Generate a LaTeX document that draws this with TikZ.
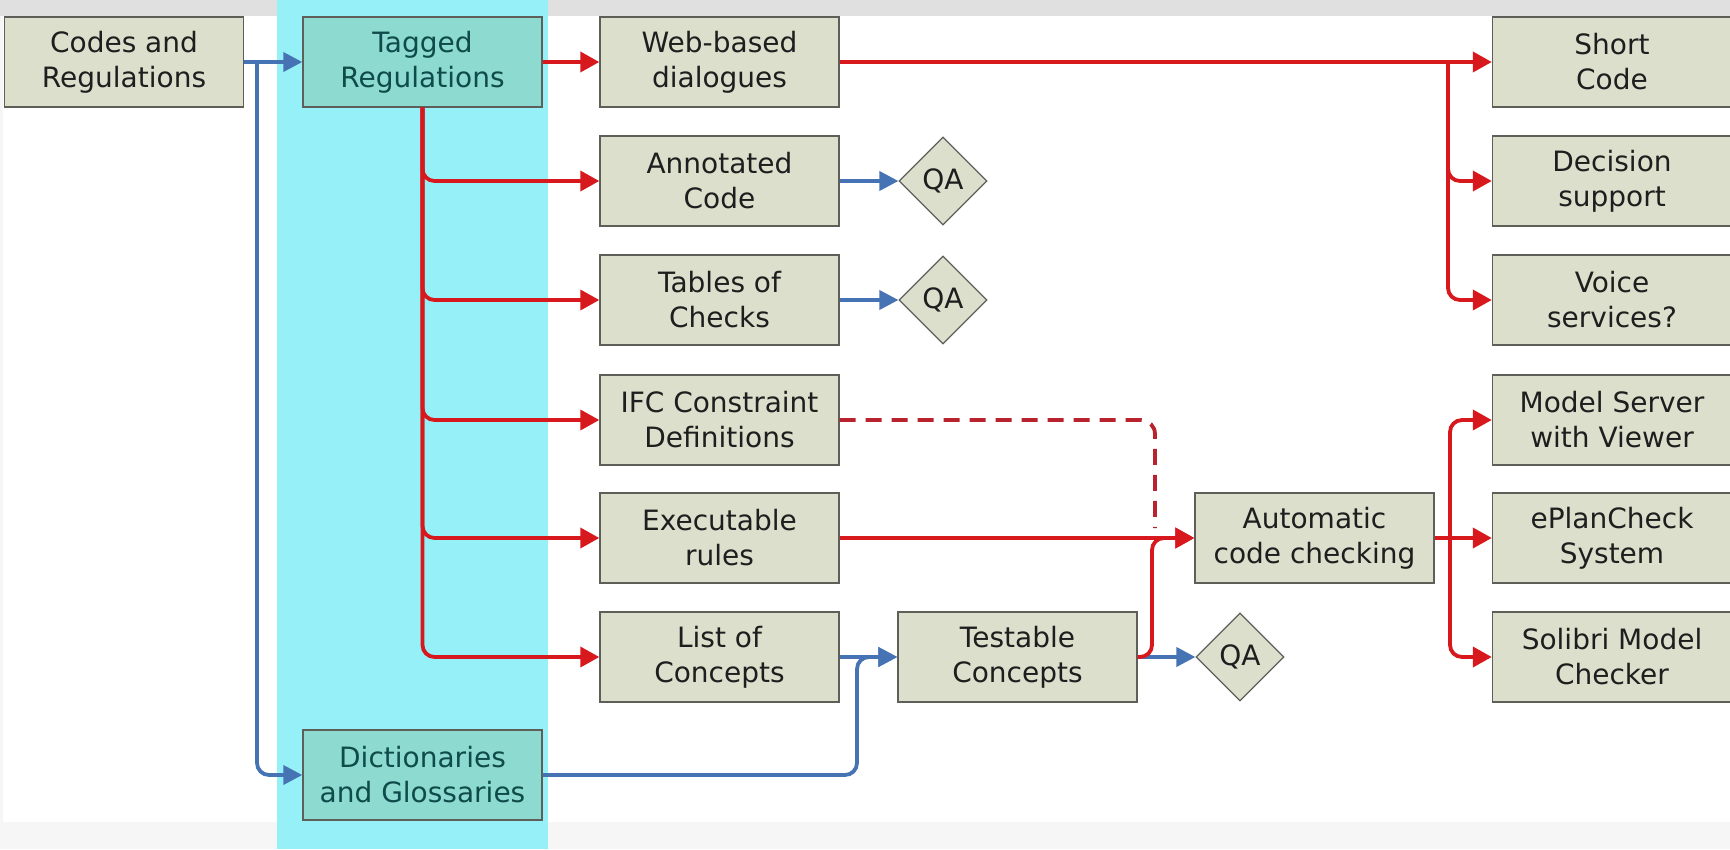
\documentclass[tikz,border=0pt]{standalone}
\usepackage{fontspec}
\setmainfont{DejaVu Sans}
\usetikzlibrary{arrows.meta,shapes.geometric}
\definecolor{boxfill}{RGB}{221,223,205}
\definecolor{boxdraw}{RGB}{95,95,90}
\definecolor{tagfill}{RGB}{140,218,208}
\definecolor{tagtext}{RGB}{15,75,75}
\definecolor{cyanband}{RGB}{150,240,248}
\definecolor{topgray}{RGB}{224,224,224}
\definecolor{botgray}{RGB}{246,246,246}
\definecolor{flowred}{RGB}{215,25,30}
\definecolor{dashred}{RGB}{185,35,45}
\definecolor{flowblue}{RGB}{70,115,180}
\definecolor{txt}{RGB}{30,30,30}
\tikzset{
  box/.style={draw=boxdraw, line width=1.4pt, fill=boxfill, text=txt,
    minimum width=239pt, minimum height=90pt, inner sep=0pt, align=center,
    font=\fontsize{28}{35}\selectfont},
  tagbox/.style={box, fill=tagfill, text=tagtext},
  qa/.style={diamond, draw=boxdraw, line width=1.2pt, fill=boxfill, text=txt,
    minimum width=88pt, minimum height=88pt, inner sep=0pt,
    font=\fontsize{28}{35}\selectfont},
  redarrow/.style={draw=flowred, line width=3.8pt,
    -{Triangle[length=19pt,width=20pt]}, rounded corners=12pt},
  redline/.style={draw=flowred, line width=3.8pt, rounded corners=12pt},
  bluearrow/.style={draw=flowblue, line width=3.8pt,
    -{Triangle[length=19pt,width=19pt]}, rounded corners=12pt},
  dashline/.style={draw=dashred, line width=3.8pt, dash pattern=on 16pt off 10pt,
    rounded corners=14pt}
}
\begin{document}
\begin{tikzpicture}[x=1pt,y=-1pt]
\useasboundingbox (0,0) rectangle (1730,849);
% background
\fill[white] (0,0) rectangle (1730,849);
\fill[topgray] (0,0) rectangle (1730,16);
\fill[botgray] (0,822) rectangle (1730,849);
\fill[botgray] (0,16) rectangle (3,822);
\fill[cyanband] (277,0) rectangle (548,849);

% nodes
\node[box] (codes) at (124,62) {Codes and\\Regulations};
\node[tagbox] (tagged) at (422.5,62) {Tagged\\Regulations};
\node[tagbox] (dict) at (422.5,775) {Dictionaries\\and Glossaries};
\node[box] (web) at (719.5,62) {Web-based\\dialogues};
\node[box] (annot) at (719.5,181) {Annotated\\Code};
\node[box] (tables) at (719.5,300) {Tables of\\Checks};
\node[box] (ifc) at (719.5,420) {IFC Constraint\\Definitions};
\node[box] (exec) at (719.5,538) {Executable\\rules};
\node[box] (list) at (719.5,657) {List of\\Concepts};
\node[box] (testable) at (1017.5,657) {Testable\\Concepts};
\node[qa] (qa1) at (943,181) {QA};
\node[qa] (qa2) at (943,300) {QA};
\node[qa] (qa3) at (1240,657) {QA};
\node[box] (auto) at (1314.5,538) {Automatic\\code checking};
\node[box] (short) at (1612,62) {Short\\Code};
\node[box] (decision) at (1612,181) {Decision\\support};
\node[box] (voice) at (1612,300) {Voice\\services?};
\node[box] (model) at (1612,420) {Model Server\\with Viewer};
\node[box] (eplan) at (1612,538) {ePlanCheck\\System};
\node[box] (solibri) at (1612,657) {Solibri Model\\Checker};

% junction coordinates
\coordinate (cj) at (257,62);
\coordinate (wj) at (1448,62);
\coordinate (dj) at (1155,528);
\coordinate (tj) at (1152,538);
\coordinate (gj) at (857,657);
\coordinate (aj) at (1450,538);

% blue connectors
\draw[bluearrow] (codes.east) -- (tagged.west);
\draw[bluearrow] (cj) |- (dict.west);
\draw[bluearrow] (annot.east) -- (qa1.west);
\draw[bluearrow] (tables.east) -- (qa2.west);
\draw[bluearrow] (list.east) -- (testable.west);
\draw[bluearrow] (dict.east) -| (gj) -- (testable.west);
\draw[bluearrow] (testable.east) -- (qa3.west);

% red connectors
\draw[redarrow] (tagged.east) -- (web.west);
\draw[redarrow] (tagged.south) |- (annot.west);
\draw[redarrow] (tagged.south) |- (tables.west);
\draw[redarrow] (tagged.south) |- (ifc.west);
\draw[redarrow] (tagged.south) |- (exec.west);
\draw[redarrow] (tagged.south) |- (list.west);
\draw[redarrow] (web.east) -- (short.west);
\draw[redarrow] (wj) |- (decision.west);
\draw[redarrow] (wj) |- (voice.west);
\draw[dashline] (ifc.east) -| (dj);
\draw[redarrow] (exec.east) -- (auto.west);
\draw[redarrow] (testable.east) -| (tj) -- (auto.west);
\draw[redarrow] (auto.east) -- (eplan.west);
\draw[redarrow] (aj) |- (model.west);
\draw[redarrow] (aj) |- (solibri.west);
\end{tikzpicture}
\end{document}
